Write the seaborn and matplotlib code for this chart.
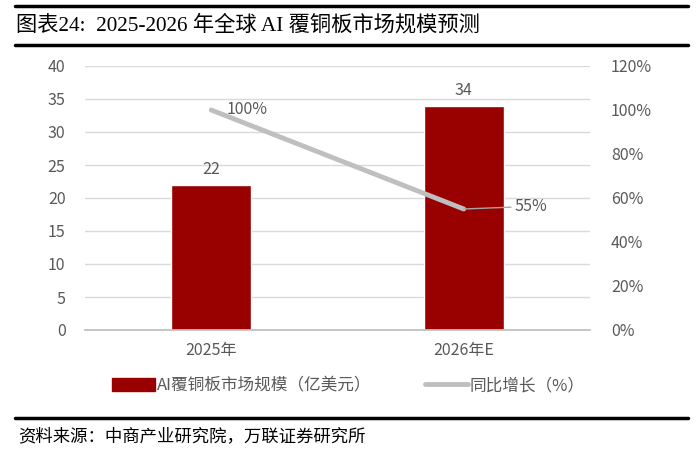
import matplotlib
matplotlib.use("Agg")
import matplotlib.pyplot as plt
import seaborn as sns
import pandas as pd
from matplotlib.patches import Patch
from matplotlib.lines import Line2D

categories = ["2025年", "2026年E"]
market_size = [22, 34]
yoy_growth = [100, 55]
bar_label = "AI覆铜板市场规模（亿美元）"
line_label = "同比增长（%）"
title = "图表24:  2025-2026 年全球 AI 覆铜板市场规模预测"
source = "资料来源：中商产业研究院，万联证券研究所"

sns.set_theme(style="white")
plt.rcParams['font.family'] = ['Noto Sans CJK SC', 'DejaVu Sans']

BAR = "#990000"
LINE = "#BFBFBF"
TXT = "#595959"
GRID = "#D9D9D9"

fig = plt.figure(figsize=(6.97, 4.5), dpi=100)
ax = fig.add_axes([85/697, 1-330/450, (590-85)/697, (330-66)/450])

df = pd.DataFrame({"cat": categories, "val": market_size})
sns.barplot(data=df, x="cat", y="val", color=BAR, width=0.316, ax=ax, saturation=1)
ax.set_xlim(-0.5, 1.5)
ax.set_ylim(0, 40)
ax.set_yticks(range(0, 41, 5))
ax.yaxis.grid(True, color=GRID, linewidth=1)
ax.set_axisbelow(True)
for s in ["top", "right", "left"]:
    ax.spines[s].set_visible(False)
ax.spines["bottom"].set_color("#BFBFBF")
ax.set_xlabel("")
ax.set_ylabel("")
ax.tick_params(axis="both", colors=TXT, labelsize=11.5, length=0)
ax.tick_params(axis="y", pad=14)
ax.tick_params(axis="x", pad=9)
for i, v in enumerate(market_size):
    ax.text(i, v + 1.0, f"{v}", ha="center", va="bottom", color=TXT, fontsize=11.5)

ax2 = ax.twinx()
sns.lineplot(x=[0, 1], y=yoy_growth, ax=ax2, color=LINE, linewidth=3.5)
ax2.set_ylim(0, 120)
ax2.set_yticks(range(0, 121, 20))
ax2.set_yticklabels([f"{t}%" for t in range(0, 121, 20)])
for s in ["top", "right", "left", "bottom"]:
    ax2.spines[s].set_visible(False)
ax2.tick_params(axis="y", colors=TXT, labelsize=11.5, length=0, pad=15)
ax2.set_xlim(-0.5, 1.5)
ax2.set_ylabel("")
ax2.text(0.06, yoy_growth[0], f"{yoy_growth[0]}%", ha="left", va="center", color=TXT, fontsize=11.5)
ax2.annotate(f"{yoy_growth[1]}%", xy=(1, yoy_growth[1]), xytext=(1.2, yoy_growth[1] + 1.2),
             ha="left", va="center", color=TXT, fontsize=11.5,
             arrowprops=dict(arrowstyle="-", color="#A6A6A6", lw=1, shrinkA=0, shrinkB=0))

handles = [Patch(facecolor=BAR, edgecolor=BAR), Line2D([0], [0], color=LINE, lw=3.5)]
fig.legend(handles, [bar_label, line_label], loc="center", bbox_to_anchor=(0.5, 1-386/450),
           ncol=2, frameon=False, fontsize=12, labelcolor=TXT, handlelength=2.6,
           handleheight=0.8, handletextpad=0.1, columnspacing=3.2)

# header / footer rules
fig.add_artist(Line2D([15/697, 688/697], [1-6/450, 1-6/450], color="black", lw=2.5))
fig.add_artist(Line2D([15/697, 688/697], [1-45/450, 1-45/450], color="black", lw=2.5))
fig.add_artist(Line2D([15/697, 688/697], [1-418/450, 1-418/450], color="black", lw=2.5))
fig.text(16/697, 1-25/450, title, ha="left", va="center", fontsize=15.3, color="black",
         family=['Liberation Serif', 'Noto Sans CJK SC'])
fig.text(18/697, 1-436/450, source, ha="left", va="center", fontsize=12.5, color="black",
         style="italic")

fig.savefig("out.png", dpi=100)
